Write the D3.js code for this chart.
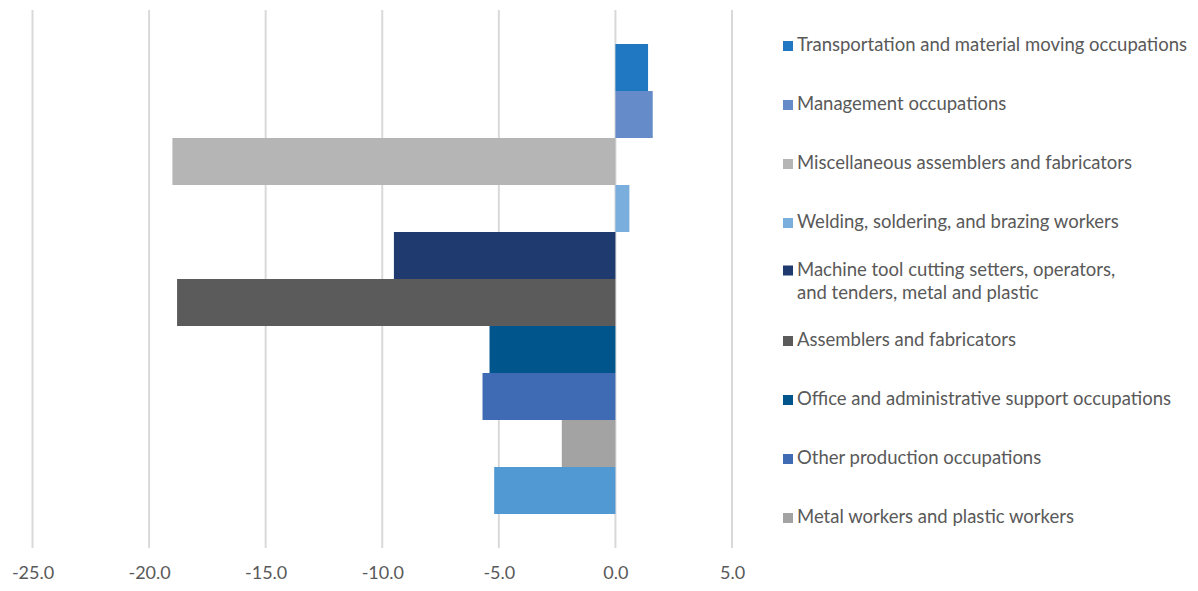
<!DOCTYPE html>
<html>
<head>
<meta charset="utf-8">
<script src="https://cdn.jsdelivr.net/npm/d3@7"></script>
<style>
  body { margin: 0; background: #fff; }
  text { font-family: Lato, "Source Sans Pro", sans-serif; fill: #595959; }
</style>
</head>
<body>
<div id="chart"></div>
<script>
// series in the order they are drawn, top to bottom
const occupations = [
    "Transportation and material moving occupations",
    "Management occupations",
    "Miscellaneous assemblers and fabricators",
    "Welding, soldering, and brazing workers",
    "Machine tool cutting setters, operators,\nand tenders, metal and plastic",
    "Assemblers and fabricators",
    "Office and administrative support occupations",
    "Other production occupations",
    "Metal workers and plastic workers",
    "" // last series has no legend entry in the source
];
const values = [1.4, 1.6, -19.0, 0.6, -9.5, -18.8, -5.4, -5.7, -2.3, -5.2];
const colors = ["#1f78c1", "#668bc9", "#b5b5b5", "#7aaedd", "#1f3a6f",
                "#5b5b5b", "#00568c", "#3e6bb4", "#a3a3a3", "#5199d3"];
const xTicks = [-25, -20, -15, -10, -5, 0, 5];

const W = 1198, H = 591;
const plot = { left: 32.5, right: 732, top: 10, bottom: 548 };

const svg = d3.select("#chart").append("svg")
    .attr("width", W)
    .attr("height", H);

const x = d3.scaleLinear()
    .domain([-25, 5])
    .range([plot.left, plot.right]);

const y = d3.scaleBand()
    .domain(d3.range(values.length))
    .range([44, 514])
    .padding(0);

// gridlines
svg.append("g")
    .selectAll("line")
    .data(xTicks)
    .join("line")
    .attr("x1", d => x(d))
    .attr("x2", d => x(d))
    .attr("y1", plot.top)
    .attr("y2", plot.bottom)
    .attr("stroke", "#d9d9d9")
    .attr("stroke-width", 2);

// bars
svg.append("g")
    .selectAll("rect")
    .data(values)
    .join("rect")
    .attr("x", d => x(Math.min(0, d)))
    .attr("width", d => Math.abs(x(d) - x(0)))
    .attr("y", (d, i) => y(i))
    .attr("height", y.bandwidth())
    .attr("fill", (d, i) => colors[i]);

// x axis labels (plain hyphen like the original, not a minus sign)
const xAxis = d3.axisBottom(x)
    .tickValues(xTicks)
    .tickFormat(d => d.toFixed(1))
    .tickSize(0)
    .tickPadding(0);

const gx = svg.append("g")
    .attr("transform", `translate(0,${plot.bottom + 18})`)
    .call(xAxis);
gx.select(".domain").remove();
gx.selectAll("text")
    .attr("dy", "0.71em")
    .style("font-size", "18px")
    .style("font-family", "Lato, sans-serif")
    .attr("fill", "#595959");

// legend
const legendItems = occupations
    .map((name, i) => ({ name, color: colors[i] }))
    .filter(d => d.name !== "");

const legend = svg.append("g")
    .attr("transform", "translate(783,0)");

const rowStep = 59;
const items = legend.selectAll("g")
    .data(legendItems)
    .join("g")
    .attr("transform", (d, i) => `translate(0,${45 + i * rowStep})`);

items.each(function(d) {
    const g = d3.select(this);
    const lines = d.name.split("\n");
    const lineH = 23;
    const offset = -(lines.length - 1) * lineH / 2;
    g.append("rect")
        .attr("x", 0)
        .attr("y", offset - 4)
        .attr("width", 10)
        .attr("height", 10)
        .attr("fill", d.color);
    const t = g.append("text")
        .attr("x", 14)
        .attr("y", offset)
        .style("font-size", "18.5px");
    lines.forEach((line, k) => {
        t.append("tspan")
            .attr("x", 14)
            .attr("dy", k === 0 ? "0.35em" : lineH)
            .text(line);
    });
});
</script>
</body>
</html>
